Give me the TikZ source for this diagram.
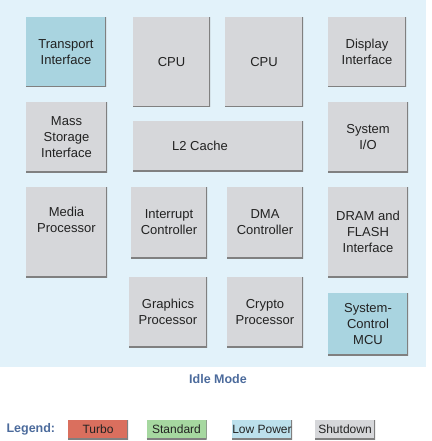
\documentclass[tikz,border=0pt]{standalone}
\usepackage{fontspec}
\setmainfont{Liberation Sans}
\usetikzlibrary{positioning}

\definecolor{panelblue}{HTML}{E2F2FA}
\definecolor{titleblue}{HTML}{4C6B9C}
\definecolor{inktext}{HTML}{222222}
\definecolor{metal}{HTML}{D6D7DA}
\definecolor{teal}{HTML}{A9D4E0}
\definecolor{turbo}{HTML}{DA6F5E}
\definecolor{standard}{HTML}{A6D8A0}
\definecolor{lowpow}{HTML}{BCE0EC}

\tikzset{
  edge shadow/.style={path picture={
      \draw[black!50,line width=1.4pt]
        (path picture bounding box.south west) --
        (path picture bounding box.south east) --
        (path picture bounding box.north east);}},
  chip/.style={rectangle, fill=metal, edge shadow,
      align=center, text=inktext, font=\fontsize{13}{16}\selectfont,
      inner sep=2pt},
  chiplow/.style={chip, fill=teal},
  legbox/.style={rectangle, minimum width=60pt, minimum height=19pt,
      edge shadow, inner sep=0pt, text=inktext,
      font=\fontsize{12}{14}\selectfont},
  heading/.style={text=titleblue, font=\bfseries\fontsize{12.5}{15}\selectfont}
}

\begin{document}
\begin{tikzpicture}[x=1pt,y=-1pt]
\useasboundingbox (0,0) rectangle (431,441);
\fill[panelblue] (0,0) rectangle (426,367);

% left column
\node[chiplow, minimum width=80pt, minimum height=70pt] (transport) at (66,52) {Transport\\Interface};
\node[chip, minimum width=81pt, minimum height=70pt] (mass) at (66.5,137) {Mass\\Storage\\Interface};
\node[chip, minimum width=81pt, minimum height=90pt] (media) at (66.5,232) {Media\\Processor\\[8pt]};

% centre
\node[chip, minimum width=77pt, minimum height=90pt] (cpua) at (171.5,62) {CPU};
\node[chip, minimum width=78pt, minimum height=90pt] (cpub) at (264,62) {CPU};
\node[chip, minimum width=170pt, minimum height=50pt] (cache) at (218,146) {L2 Cache\hspace*{36pt}};
\node[chip, minimum width=76pt, minimum height=71pt] (irq) at (169,222.5) {Interrupt\\Controller};
\node[chip, minimum width=76pt, minimum height=71pt] (dma) at (265,222.5) {DMA\\Controller};
\node[chip, minimum width=78pt, minimum height=70pt] (gfx) at (168,312) {Graphics\\Processor};
\node[chip, minimum width=76pt, minimum height=70pt] (crypto) at (265,312) {Crypto\\Processor};

% right column
\node[chip, minimum width=78pt, minimum height=70pt] (display) at (367,52) {Display\\Interface};
\node[chip, minimum width=80pt, minimum height=70pt] (sysio) at (368,137) {System\\I/O};
\node[chip, minimum width=80pt, minimum height=90pt] (dram) at (368,232) {DRAM and\\FLASH\\Interface};
\node[chiplow, minimum width=80pt, minimum height=62pt] (mcu) at (368,324) {System-\\Control\\MCU};

\node[heading] (mode) at (218,379) {Idle Mode};

% legend
\node[heading, anchor=west] (legend) at (3,429) {Legend:};
\node[legbox, fill=turbo] (turbo) at (98,429.5) {Turbo};
\node[legbox, fill=standard] (standard) at (176.5,429.5) {Standard};
\node[legbox, fill=lowpow] (lowpower) at (262,429.5) {Low Power};
\node[legbox, fill=metal] (shutdown) at (345,429.5) {Shutdown};
\end{tikzpicture}
\end{document}
